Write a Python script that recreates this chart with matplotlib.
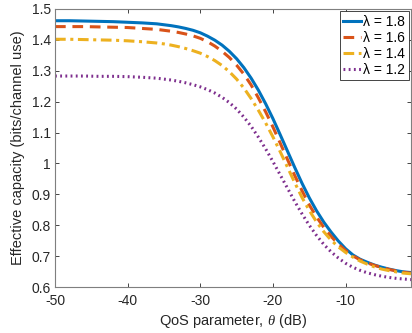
import matplotlib.pyplot as plt
import numpy as np

plt.rcParams['font.family'] = ['Liberation Sans', 'DejaVu Sans']
plt.rcParams['mathtext.fontset'] = 'custom'
plt.rcParams['mathtext.it'] = 'Liberation Serif:italic'
plt.rcParams['axes.unicode_minus'] = False

theta = [-50, -48, -46, -44, -42, -40, -38,
         -36, -35, -34, -33, -32, -31, -30, -29, -28, -27, -26, -25, -24, -23, -22, -21,
         -20, -19, -18, -17, -16, -15, -14, -13, -12, -11, -10, -9, -8, -7, -6, -5,
         -4, -3, -2, -1]
cap_18 = [1.462, 1.462, 1.461, 1.460, 1.459, 1.457, 1.455,
          1.452, 1.449, 1.446, 1.442, 1.437, 1.431, 1.423, 1.412, 1.399, 1.383, 1.363, 1.339,
          1.310, 1.276, 1.237, 1.193, 1.145, 1.093, 1.040, 0.987, 0.936, 0.889, 0.847, 0.810,
          0.778, 0.749, 0.724, 0.704, 0.690, 0.680, 0.671, 0.664, 0.658, 0.653, 0.649, 0.647]
cap_16 = [1.443, 1.443, 1.443, 1.442, 1.441, 1.440, 1.437,
          1.434, 1.431, 1.428, 1.424, 1.419, 1.413, 1.405, 1.394, 1.380, 1.363, 1.343, 1.318,
          1.289, 1.254, 1.212, 1.167, 1.118, 1.066, 1.013, 0.961, 0.912, 0.866, 0.827, 0.793,
          0.764, 0.739, 0.718, 0.701, 0.688, 0.678, 0.670, 0.663, 0.657, 0.652, 0.648, 0.645]
cap_14 = [1.402, 1.402, 1.401, 1.400, 1.399, 1.397, 1.394,
          1.390, 1.387, 1.383, 1.378, 1.372, 1.365, 1.357, 1.346, 1.333, 1.317, 1.297, 1.273,
          1.244, 1.210, 1.172, 1.131, 1.086, 1.038, 0.988, 0.938, 0.890, 0.848, 0.811, 0.779,
          0.752, 0.730, 0.712, 0.697, 0.684, 0.674, 0.665, 0.658, 0.653, 0.649, 0.645, 0.643]
cap_12 = [1.283, 1.283, 1.283, 1.282, 1.282, 1.281, 1.279,
          1.276, 1.273, 1.270, 1.266, 1.261, 1.255, 1.248, 1.239, 1.228, 1.214, 1.197, 1.176,
          1.150, 1.120, 1.085, 1.047, 1.006, 0.963, 0.920, 0.877, 0.837, 0.800, 0.767, 0.738,
          0.714, 0.694, 0.677, 0.664, 0.654, 0.646, 0.640, 0.635, 0.631, 0.628, 0.626, 0.624]
labels = ['λ = 1.8', 'λ = 1.6', 'λ = 1.4', 'λ = 1.2']

fig = plt.figure(figsize=(4.12, 3.33), dpi=100)
ax = fig.add_axes([0.1335, 0.138, 0.864, 0.835])

ax.plot(theta, cap_18, color='#0072BD', lw=2.2, ls='-', label=labels[0])
ax.plot(theta, cap_16, color='#D95319', lw=2.2, ls=(0, (3.5, 2.2)), label=labels[1])
ax.plot(theta, cap_14, color='#EDB120', lw=2.2, ls=(0, (3.5, 1.5, 1, 1.5)), label=labels[2])
ax.plot(theta, cap_12, color='#7E2F8E', lw=2.2, ls=(0, (0.6, 1.1)), label=labels[3])

ax.set_xlim(-50, -1)
ax.set_ylim(0.6, 1.5)
ax.set_xticks([-50, -40, -30, -20, -10])
ax.set_yticks(np.arange(0.6, 1.51, 0.1))
ax.set_yticklabels(['0.6', '0.7', '0.8', '0.9', '1', '1.1', '1.2', '1.3', '1.4', '1.5'])
ax.tick_params(direction='in', length=3, width=0.6, top=True, right=True,
               labelsize=10, colors='#262626')
ax.tick_params(axis='x', pad=5)
ax.tick_params(axis='y', pad=3)
for s in ax.spines.values():
    s.set_color('#7f7f7f')
    s.set_linewidth(0.8)

ax.set_xlabel(r'QoS parameter, $\theta$ (dB)', fontsize=10.5, color='#262626', labelpad=3)
ax.set_ylabel('Effective capacity (bits/channel use)', fontsize=10.5, color='#262626', labelpad=5)

leg = ax.legend(loc='upper right', fontsize=10, handlelength=1.3, handletextpad=0.15,
                borderaxespad=0.15, borderpad=0.25, labelspacing=0.15, fancybox=False,
                framealpha=1, edgecolor='#262626')
leg.get_frame().set_linewidth(0.6)

plt.savefig('out.png', dpi=100)
